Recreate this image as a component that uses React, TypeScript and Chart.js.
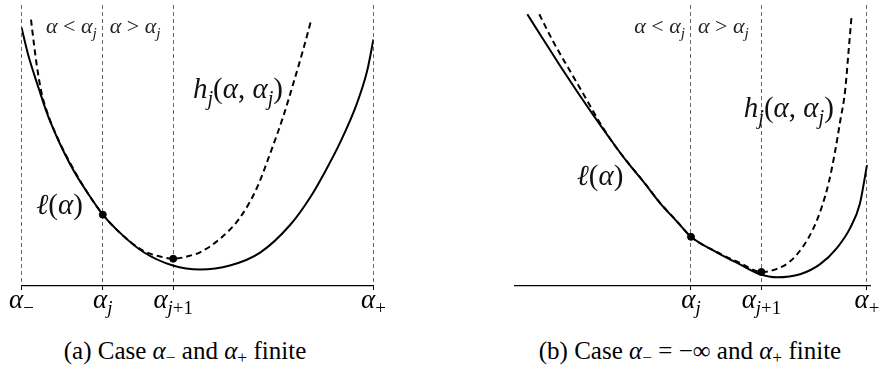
import React, { useEffect, useRef } from 'react';
import { Chart, registerables } from 'chart.js';

Chart.register(...registerables);

// ---------- Panel (a): α− and α+ finite ----------
const aTicks = [0, 2.31, 4.31, 10];
const aTickSubs = ['−', 'j', 'j+1', '+'];
const aLossX = [0, 0.185, 0.355, 0.526, 0.724, 0.952, 1.207, 1.52, 1.889, 2.31, 2.8, 3.45, 4.3, 5.07, 5.92, 6.78, 7.63, 8.2, 8.62, 9.05, 9.53, 9.82, 10];
const aLossY = [9.2, 8.25, 7.55, 6.89, 6.15, 5.45, 4.76, 4.02, 3.29, 2.54, 1.89, 1.22, 0.73, 0.59, 0.73, 1.19, 2.17, 3.15, 4.06, 5.1, 6.5, 7.66, 8.78];
const aBoundX = [0.27, 0.355, 0.44, 0.574, 0.753, 0.952, 1.179, 1.52, 1.889, 2.31, 2.8, 3.45, 3.935, 4.31, 4.79, 5.07, 5.64, 6.2, 6.68, 7.06, 7.44, 7.72, 8.0, 8.24];
const aBoundY = [9.48, 8.6, 7.8, 6.85, 6.1, 5.47, 4.86, 4.06, 3.29, 2.54, 1.89, 1.26, 1.05, 0.97, 1.08, 1.2, 1.68, 2.42, 3.47, 4.7, 6.05, 7.2, 8.4, 9.51];
const aDotX = [2.31, 4.31];
const aDotY = [2.54, 0.97];

// ---------- Panel (b): α− = −∞ and α+ finite ----------
const bTicks = [5, 7, 10];
const bTickSubs = ['j', 'j+1', '+'];
const bLossX = [0.35, 0.8, 1.28, 1.75, 2.22, 2.7, 3.17, 3.65, 4.12, 4.59, 5, 5.73, 6.39, 6.96, 7.44, 8.1, 8.66, 9.15, 9.52, 9.8, 10];
const bLossY = [9.67, 8.78, 7.84, 6.95, 6.09, 5.24, 4.44, 3.71, 2.95, 2.31, 1.75, 1.2, 0.77, 0.42, 0.31, 0.42, 0.77, 1.36, 2.06, 2.94, 4.3];
const bBoundX = [0.69, 1.08, 1.56, 2.045, 2.415, 2.78, 3.17, 3.65, 4.12, 4.59, 5, 5.73, 6.39, 7, 7.44, 7.81, 8.18, 8.47, 8.72, 8.92, 9.09, 9.23, 9.38, 9.47, 9.565];
const bBoundY = [9.67, 8.71, 7.66, 6.61, 5.8, 5.1, 4.45, 3.72, 2.96, 2.32, 1.75, 1.21, 0.82, 0.5, 0.61, 0.87, 1.4, 2.03, 2.83, 3.71, 4.76, 5.8, 6.96, 8.25, 9.65];
const bDotX = [5, 7];
const bDotY = [1.75, 0.5];

type Seg = [string, string]; // [text, style]  style: i | r | si | sr

const CANVAS_FAMILY = '"Liberation Serif"';
const HTML_FAMILY = 'Liberation Serif';

function fontFor(style: string, size: number) {
  const sub = style[0] === 's';
  const it = style.endsWith('i');
  const sz = Math.round((sub ? size * 0.7 : size) * 10) / 10;
  return `${it ? 'italic ' : 'normal '}${sz}px ${CANVAS_FAMILY}`;
}

function drawMath(ctx: CanvasRenderingContext2D, segs: Seg[], x: number, y: number, size: number, align: string, color: string) {
  let total = 0;
  const widths = segs.map(([t, s]) => {
    ctx.font = fontFor(s, size);
    const w = ctx.measureText(t).width;
    total += w;
    return w;
  });
  let cx = align === 'left' ? x : align === 'right' ? x - total : x - total / 2;
  ctx.save();
  ctx.fillStyle = color;
  ctx.textAlign = 'left';
  ctx.textBaseline = 'alphabetic';
  segs.forEach(([t, s], i) => {
    ctx.font = fontFor(s, size);
    ctx.fillText(t, cx, y + (s[0] === 's' ? size * 0.24 : 0));
    cx += widths[i];
  });
  ctx.restore();
}

function subSegs(sub: string): Seg[] {
  return sub.split('').map((c) => [c, /[a-z]/i.test(c) ? 'si' : 'sr'] as Seg);
}

const LESS: Seg[] = [['α', 'i'], [' < ', 'r'], ['α', 'i'], ['j', 'si']];
const GREATER: Seg[] = [['α', 'i'], [' > ', 'r'], ['α', 'i'], ['j', 'si']];
const H_LABEL: Seg[] = [['h', 'i'], ['j', 'si'], ['(', 'r'], ['α', 'i'], [', ', 'r'], ['α', 'i'], ['j', 'si'], [')', 'r']];
const L_LABEL: Seg[] = [['ℓ', 'i'], ['(', 'r'], ['α', 'i'], [')', 'r']];

interface PanelDef {
  ticks: number[];
  subs: string[];
  lossX: number[];
  lossY: number[];
  boundX: number[];
  boundY: number[];
  dotX: number[];
  dotY: number[];
  xMin: number;
  xMax: number;
  padLeft: number;
  padRight: number;
  splitTick: number;
  hPos: [number, number];
  lPos: [number, number];
}

const panelA: PanelDef = {
  ticks: aTicks, subs: aTickSubs,
  lossX: aLossX, lossY: aLossY, boundX: aBoundX, boundY: aBoundY, dotX: aDotX, dotY: aDotY,
  xMin: 0, xMax: 10, padLeft: 21.5, padRight: 66.5,
  splitTick: 1, hPos: [6.15, 6.68], lPos: [1.08, 2.57],
};

const panelB: PanelDef = {
  ticks: bTicks, subs: bTickSubs,
  lossX: bLossX, lossY: bLossY, boundX: bBoundX, boundY: bBoundY, dotX: bDotX, dotY: bDotY,
  xMin: 0, xMax: 10.1, padLeft: 75, padRight: 14.5,
  splitTick: 0, hPos: [7.78, 6.01], lPos: [2.415, 3.6],
};

function makeChart(canvas: HTMLCanvasElement, p: PanelDef) {
  const zip = (xs: number[], ys: number[]) => xs.map((x, i) => ({ x, y: ys[i] }));
  const labelPlugin = {
    id: 'mathLabels',
    afterDraw(chart: any) {
      const ctx = chart.ctx as CanvasRenderingContext2D;
      const xs = chart.scales.x;
      const ys = chart.scales.y;
      const bottom = chart.chartArea.bottom;
      p.ticks.forEach((v, i) => {
        const px = xs.getPixelForValue(v);
        drawMath(ctx, [['α', 'i'], ...subSegs(p.subs[i])], px, bottom + 22, 27, 'center', '#000');
      });
      const sx = xs.getPixelForValue(p.ticks[p.splitTick]);
      const topY = ys.getPixelForValue(9.0);
      drawMath(ctx, LESS, sx - 6, topY, 22, 'right', '#222');
      drawMath(ctx, GREATER, sx + 7, topY, 22, 'left', '#222');
      drawMath(ctx, H_LABEL, xs.getPixelForValue(p.hPos[0]), ys.getPixelForValue(p.hPos[1]), 29, 'center', '#111');
      drawMath(ctx, L_LABEL, xs.getPixelForValue(p.lPos[0]), ys.getPixelForValue(p.lPos[1]), 29, 'center', '#111');
    },
  };
  return new Chart(canvas, {
    type: 'scatter',
    data: {
      datasets: [
        {
          label: 'ℓ(α)',
          data: zip(p.lossX, p.lossY),
          showLine: true,
          borderColor: '#000',
          borderWidth: 2,
          pointRadius: 0,
          cubicInterpolationMode: 'monotone',
          order: 2,
        },
        {
          label: 'h_j(α, α_j)',
          data: zip(p.boundX, p.boundY),
          showLine: true,
          borderColor: '#000',
          borderWidth: 2,
          borderDash: [6, 4],
          pointRadius: 0,
          cubicInterpolationMode: 'monotone',
          order: 1,
        },
        {
          label: 'points',
          data: zip(p.dotX, p.dotY),
          showLine: false,
          pointRadius: 3.5,
          pointBackgroundColor: '#000',
          pointBorderColor: '#000',
          order: 0,
        },
      ],
    },
    options: {
      responsive: false,
      maintainAspectRatio: false,
      animation: false,
      layout: { padding: { left: p.padLeft, right: p.padRight, top: 0, bottom: 40 } },
      plugins: { legend: { display: false }, tooltip: { enabled: false }, title: { display: false } },
      scales: {
        x: {
          type: 'linear',
          min: p.xMin,
          max: p.xMax,
          afterBuildTicks: (scale: any) => {
            scale.ticks = p.ticks.map((v) => ({ value: v }));
          },
          ticks: { display: false },
          grid: {
            display: true,
            color: '#666',
            lineWidth: 1,
            drawOnChartArea: true,
            drawTicks: true,
            tickLength: 4,
            tickColor: '#000',
            tickWidth: 1,
          },
          border: { display: true, color: '#000', width: 1.3, dash: [4, 3] },
        },
        y: { type: 'linear', min: 0, max: 10, display: false },
      },
    },
    plugins: [labelPlugin],
  } as any);
}

const captionStyle: React.CSSProperties = {
  position: 'absolute',
  top: 336,
  textAlign: 'center',
  fontFamily: HTML_FAMILY,
  fontSize: 25,
  lineHeight: '30px',
  color: '#000',
  whiteSpace: 'nowrap',
};
const subStyle: React.CSSProperties = { fontSize: '0.7em', verticalAlign: '-0.25em', lineHeight: 0 };

export default function App() {
  const aRef = useRef<HTMLCanvasElement>(null);
  const bRef = useRef<HTMLCanvasElement>(null);
  useEffect(() => {
    const ca = makeChart(aRef.current!, panelA);
    const cb = makeChart(bRef.current!, panelB);
    return () => {
      ca.destroy();
      cb.destroy();
    };
  }, []);
  return (
    <div style={{ position: 'absolute', left: 0, top: 0, width: 885, height: 383, background: '#fff', overflow: 'hidden' }}>
      <canvas ref={aRef} width={440} height={330} style={{ position: 'absolute', left: 0, top: 0 }} />
      <canvas ref={bRef} width={445} height={330} style={{ position: 'absolute', left: 440, top: 0 }} />
      <div style={{ ...captionStyle, left: 0, width: 370 }}>
        (a) Case <i>α</i><sub style={subStyle}>−</sub> and <i>α</i><sub style={subStyle}>+</sub> finite
      </div>
      <div style={{ ...captionStyle, left: 490, width: 400 }}>
        (b) Case <i>α</i><sub style={subStyle}>−</sub> = −∞ and <i>α</i><sub style={subStyle}>+</sub> finite
      </div>
    </div>
  );
}
